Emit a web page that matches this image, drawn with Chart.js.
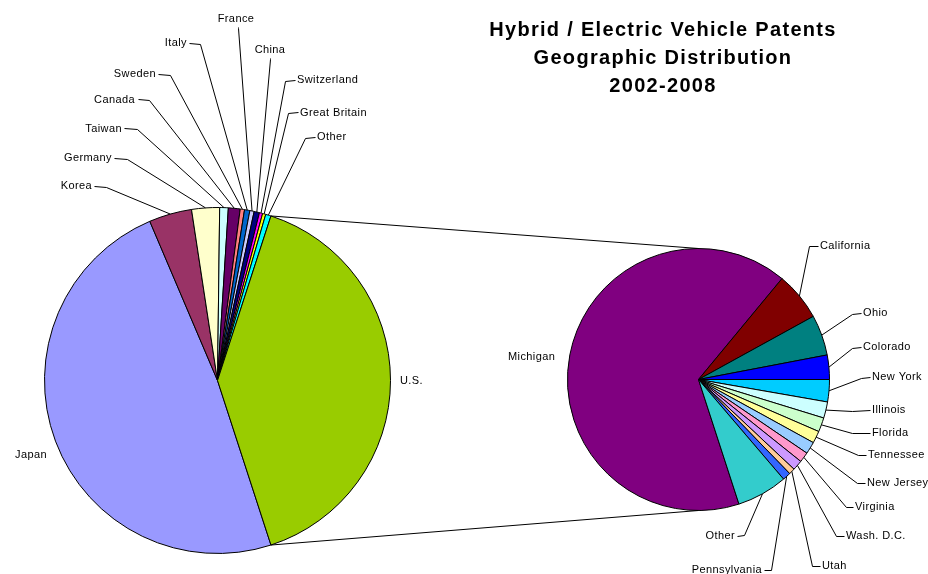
<!DOCTYPE html>
<html>
<head>
<meta charset="utf-8">
<title>Hybrid / Electric Vehicle Patents</title>
<script src="https://cdn.jsdelivr.net/npm/chart.js@4.4.1/dist/chart.umd.min.js"></script>
<style>
  html, body { margin: 0; padding: 0; background: #fff; }
  #wrap { position: relative; width: 928px; height: 574px; overflow: hidden; }
  #wrap canvas { position: absolute; left: 0; top: 0; }
  #title {
    position: absolute; left: 463px; top: 15px; width: 400px;
    text-align: center; color: #000;
    font: bold 20px "Liberation Sans", Arial, sans-serif;
    line-height: 28px; letter-spacing: 1.3px;
  }
</style>
</head>
<body>
<div id="wrap">
  <canvas id="mainPie" width="928" height="574"></canvas>
  <canvas id="usPie" width="928" height="574"></canvas>
  <div id="title"></div>
</div>
<script>
// Patents by inventor country (U.S. is split out into the second pie)
var countries = ['Japan', 'Korea', 'Germany', 'Taiwan', 'Canada', 'Sweden', 'Italy',
                 'France', 'China', 'Switzerland', 'Great Britain', 'Other'];
var countryPatents = [486, 40, 26, 8, 11, 4, 5, 4, 5, 3, 3, 5];

// U.S. patents by state
var states = ['Michigan', 'California', 'Ohio', 'Colorado', 'New York', 'Illinois', 'Florida',
              'Tennessee', 'New Jersey', 'Virginia', 'Wash. D.C.', 'Utah', 'Pennsylvania', 'Other'];
var statePatents = [264, 24, 20, 12, 11, 8, 7, 6, 6, 5, 5, 3, 4, 25];

var titleLines = ['Hybrid / Electric Vehicle Patents', 'Geographic Distribution', '2002-2008'];

// Classic office palette
var countryColors = ['#9999FF', '#993366', '#FFFFCC', '#CCFFFF', '#660066', '#FF8080', '#0066CC',
                     '#CCCCFF', '#000080', '#FF00FF', '#FFFF00', '#00FFFF'];
var usColor = '#99CC00';
var stateColors = ['#800080', '#800000', '#008080', '#0000FF', '#00CCFF', '#CCFFFF', '#CCFFCC',
                   '#FFFF99', '#99CCFF', '#FF99CC', '#CC99FF', '#FFCC99', '#3366FF', '#33CCCC'];

// Label placement: text anchor, alignment and the short stub the leader line starts from
var countryLabelPos = [
    { x: 15,  y: 455, align: 'left' },
    { x: 92,  y: 186, align: 'right',  stub: [94, 186, 106, 187] },
    { x: 112, y: 158, align: 'right',  stub: [114, 158, 127, 159] },
    { x: 122, y: 129, align: 'right',  stub: [124, 128, 137, 129] },
    { x: 135, y: 100, align: 'right',  stub: [138, 99, 149, 100] },
    { x: 156, y: 74,  align: 'right',  stub: [158, 74, 170, 75] },
    { x: 187, y: 43,  align: 'right',  stub: [189, 43, 200, 44] },
    { x: 236, y: 19,  align: 'center', stub: [238, 27, 238, 28] },
    { x: 270, y: 50,  align: 'center', stub: [270, 58, 270, 59] },
    { x: 297, y: 80,  align: 'left',   stub: [295, 80, 285, 81] },
    { x: 300, y: 113, align: 'left',   stub: [298, 112, 288, 113] },
    { x: 317, y: 137, align: 'left',   stub: [315, 137, 305, 138] },
    { x: 400, y: 381, align: 'left' }
];
var stateLabelPos = [
    { x: 508, y: 357, align: 'left' },
    { x: 820, y: 246, align: 'left',  stub: [818, 246, 809, 246] },
    { x: 863, y: 313, align: 'left',  stub: [861, 313, 852, 314] },
    { x: 863, y: 347, align: 'left',  stub: [861, 347, 852, 348] },
    { x: 872, y: 377, align: 'left',  stub: [870, 377, 861, 378] },
    { x: 872, y: 410, align: 'left',  stub: [870, 410, 852, 411] },
    { x: 872, y: 433, align: 'left',  stub: [870, 433, 852, 433] },
    { x: 868, y: 455, align: 'left',  stub: [866, 455, 858, 455] },
    { x: 867, y: 483, align: 'left',  stub: [865, 483, 857, 483] },
    { x: 855, y: 507, align: 'left',  stub: [853, 507, 846, 507] },
    { x: 846, y: 536, align: 'left',  stub: [844, 536, 836, 536] },
    { x: 822, y: 566, align: 'left',  stub: [820, 566, 812, 566] },
    { x: 762, y: 570, align: 'right', stub: [764, 570, 771, 570] },
    { x: 735, y: 536, align: 'right', stub: [737, 536, 744, 535] }
];

var LABEL_FONT = '11px "Liberation Sans", Arial, sans-serif';

// U.S. total is the combined slice of the main pie
var usTotal = statePatents.reduce(function(a, b) { return a + b; }, 0);
var grandTotal = countryPatents.reduce(function(a, b) { return a + b; }, 0) + usTotal;
// combined slice sits centred on the right-hand side
var startRotation = 90 + 180 * usTotal / grandTotal;

function arcPoint(arc, angle) {
    return {
        x: arc.x + Math.cos(angle) * arc.outerRadius,
        y: arc.y + Math.sin(angle) * arc.outerRadius
    };
}

// Data labels with elbowed leader lines
var leaderLabels = {
    id: 'leaderLabels',
    afterDraw: function(chart, args, opts) {
        var ctx = chart.ctx;
        var arcs = chart.getDatasetMeta(0).data;
        var names = chart.data.labels;
        ctx.save();
        ctx.font = LABEL_FONT;
        ctx.letterSpacing = '0.4px';
        ctx.fillStyle = '#000';
        ctx.strokeStyle = '#000';
        ctx.lineWidth = 1;
        ctx.textBaseline = 'middle';
        opts.layout.forEach(function(pos, i) {
            ctx.textAlign = pos.align;
            ctx.fillText(names[i], pos.x, pos.y);
            if (!pos.stub) return;
            var arc = arcs[i];
            var p = arcPoint(arc, (arc.startAngle + arc.endAngle) / 2);
            ctx.beginPath();
            ctx.moveTo(pos.stub[0] + 0.5, pos.stub[1] + 0.5);
            ctx.lineTo(pos.stub[2] + 0.5, pos.stub[3] + 0.5);
            ctx.lineTo(p.x, p.y);
            ctx.stroke();
        });
        ctx.restore();
    }
};

var mainChart;

// Lines joining the U.S. slice to the breakdown pie
var seriesLines = {
    id: 'seriesLines',
    afterDraw: function(chart) {
        var usArc = mainChart.getDatasetMeta(0).data[countries.length];
        var stateArc = chart.getDatasetMeta(0).data[0];
        var a = arcPoint(usArc, usArc.startAngle);
        var b = arcPoint(usArc, usArc.endAngle);
        var ctx = chart.ctx;
        ctx.save();
        ctx.strokeStyle = '#000';
        ctx.lineWidth = 1;
        ctx.beginPath();
        ctx.moveTo(a.x, a.y);
        ctx.lineTo(stateArc.x, stateArc.y - stateArc.outerRadius);
        ctx.moveTo(b.x, b.y);
        ctx.lineTo(stateArc.x, stateArc.y + stateArc.outerRadius);
        ctx.stroke();
        ctx.restore();
    }
};

function pieConfig(labels, values, colors, padding, labelPos, extraPlugins) {
    return {
        type: 'pie',
        data: {
            labels: labels,
            datasets: [{
                data: values,
                backgroundColor: colors,
                borderColor: '#000',
                borderWidth: 1,
                hoverOffset: 0,
                offset: 0
            }]
        },
        options: {
            responsive: false,
            animation: false,
            devicePixelRatio: 1,
            events: [],
            rotation: startRotation,
            layout: { padding: padding },
            plugins: {
                legend: { display: false },
                tooltip: { enabled: false },
                title: { display: false },
                leaderLabels: { layout: labelPos }
            }
        },
        plugins: [leaderLabels].concat(extraPlugins || [])
    };
}

mainChart = new Chart(document.getElementById('mainPie'), pieConfig(
    countries.concat(['U.S.']),
    countryPatents.concat([usTotal]),
    countryColors.concat([usColor]),
    { left: 44, right: 537, top: 207, bottom: 20 },
    countryLabelPos
));

new Chart(document.getElementById('usPie'), pieConfig(
    states,
    statePatents,
    stateColors,
    { left: 567, right: 98, top: 248, bottom: 63 },
    stateLabelPos,
    [seriesLines]
));

var titleEl = document.getElementById('title');
titleLines.forEach(function(line) {
    var div = document.createElement('div');
    div.textContent = line;
    titleEl.appendChild(div);
});
</script>
</body>
</html>
